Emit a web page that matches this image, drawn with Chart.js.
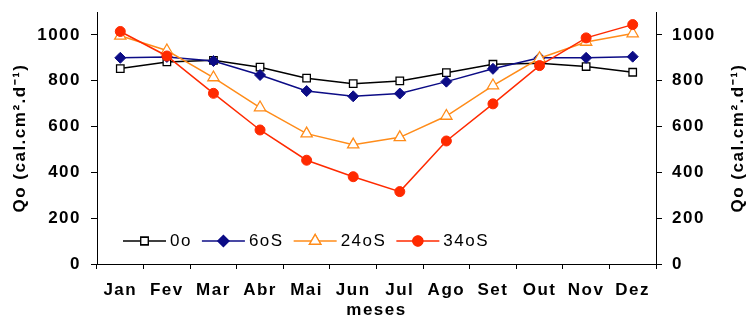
<!DOCTYPE html>
<html lang="pt">
<head>
  <meta charset="UTF-8">
  <title>Qo por mês</title>
  <script src="https://cdn.jsdelivr.net/npm/chart.js"></script>
  <style>
    html, body { margin: 0; padding: 0; background: #fff; }
    #chartBox { width: 748px; height: 320px; }
  </style>
</head>
<body>
  <div id="chartBox">
    <canvas id="qoChart" width="748" height="320"></canvas>
  </div>

  <script>
    // valores
    const months = ['Jan', 'Fev', 'Mar', 'Abr', 'Mai', 'Jun', 'Jul', 'Ago', 'Set', 'Out', 'Nov', 'Dez'];
    const lat0   = [853, 882, 889, 859, 811, 787, 799, 835, 872, 876, 862, 837];
    const lat6S  = [900, 904, 886, 825, 755, 732, 744, 796, 852, 900, 900, 905];
    const lat24S = [996, 932, 814, 683, 569, 521, 553, 646, 779, 898, 969, 1006];
    const lat34S = [1015, 908, 745, 585, 453, 381, 316, 537, 699, 866, 987, 1045];
    const seriesNames = ['0o', '6oS', '24oS', '34oS'];
    const yTickValues = [0, 200, 400, 600, 800, 1000];
    const yTitle = 'Qo (cal.cm\u00B2.d\u207B\u00B9)';
    const xTitle = 'meses';

    const SPACING = '1.5px';
    const boldFont = { family: '"Liberation Sans", Arial, sans-serif', size: 17, weight: 'bold', lineHeight: 1.2 };

    // texto um pouco mais largo, como no original
    const spacingPlugin = {
      id: 'spacing',
      beforeUpdate(chart) { chart.ctx.letterSpacing = SPACING; },
      beforeDraw(chart) { chart.ctx.letterSpacing = SPACING; }
    };

    // título do eixo direito, lido de baixo para cima
    const rightTitlePlugin = {
      id: 'rightTitle',
      afterDraw(chart) {
        const ctx = chart.ctx;
        const area = chart.chartArea;
        ctx.save();
        ctx.letterSpacing = SPACING;
        ctx.font = 'bold 17px "Liberation Sans", Arial, sans-serif';
        ctx.fillStyle = '#000';
        ctx.textAlign = 'center';
        ctx.textBaseline = 'middle';
        ctx.translate(chart.width - 10, (area.top + area.bottom) / 2);
        ctx.rotate(-Math.PI / 2);
        ctx.fillText(yTitle, 0, 0);
        ctx.restore();
      }
    };

    // legenda dentro da área do gráfico: linha + marcador + texto
    const insideLegend = {
      id: 'insideLegend',
      afterDraw(chart) {
        const ctx = chart.ctx;
        const area = chart.chartArea;
        const y = area.bottom - 23;
        let x = area.left + 26;
        ctx.save();
        ctx.letterSpacing = SPACING;
        ctx.font = '17px "Liberation Sans", Arial, sans-serif';
        chart.data.datasets.forEach(ds => {
          ctx.strokeStyle = ds.borderColor;
          ctx.lineWidth = ds.borderWidth;
          ctx.beginPath();
          ctx.moveTo(x, y);
          ctx.lineTo(x + 43, y);
          ctx.stroke();
          Chart.helpers.drawPoint(ctx, {
            pointStyle: ds.pointStyle,
            radius: ds.pointRadius,
            rotation: 0,
            borderWidth: ds.pointBorderWidth
          }, x + 21.5, y);
          ctx.fillStyle = ds.pointBackgroundColor;
          ctx.strokeStyle = ds.borderColor;
          ctx.lineWidth = ds.pointBorderWidth;
          ctx.fill();
          ctx.stroke();
          ctx.fillStyle = '#000';
          ctx.textAlign = 'left';
          ctx.textBaseline = 'middle';
          ctx.fillText(ds.label, x + 47, y);
          x += 47 + ctx.measureText(ds.label).width + 10;
        });
        ctx.restore();
      }
    };

    function keepTicks(scale) {
      scale.ticks = scale.ticks.filter(t => yTickValues.includes(t.value));
    }

    function noEdgePadding(scale) {
      scale.paddingTop = 0;
      scale.paddingBottom = 0;
      scale.paddingLeft = 0;
      scale.paddingRight = 0;
    }

    const axisGrid = { drawOnChartArea: false, drawTicks: true, tickLength: 6, color: '#000', lineWidth: 1 };
    const axisBorder = { display: true, color: '#000', width: 1 };

    new Chart(document.getElementById('qoChart').getContext('2d'), {
      type: 'line',
      data: {
        labels: months,
        datasets: [
          {
            label: seriesNames[0], data: lat0, order: 3,
            borderColor: '#000000', borderWidth: 1.5,
            pointStyle: 'rect', pointRadius: 5.3, pointBorderWidth: 1.3,
            pointBackgroundColor: '#ffffff', pointBorderColor: '#000000'
          },
          {
            label: seriesNames[1], data: lat6S, order: 2,
            borderColor: '#0c0c86', borderWidth: 1.5,
            pointStyle: 'rectRot', pointRadius: 5.5, pointBorderWidth: 1,
            pointBackgroundColor: '#0c0c86', pointBorderColor: '#0c0c86'
          },
          {
            label: seriesNames[2], data: lat24S, order: 1,
            borderColor: '#ff8c1a', borderWidth: 1.5,
            pointStyle: 'triangle', pointRadius: 6.5, pointBorderWidth: 1.3,
            pointBackgroundColor: '#ffffff', pointBorderColor: '#ff8c1a'
          },
          {
            label: seriesNames[3], data: lat34S, order: 0,
            borderColor: '#ff2a00', borderWidth: 1.5,
            pointStyle: 'circle', pointRadius: 5, pointBorderWidth: 1,
            pointBackgroundColor: '#ff2a00', pointBorderColor: '#ff2a00'
          }
        ]
      },
      options: {
        responsive: false,
        animation: false,
        layout: { padding: { top: 12, left: 0, right: 0, bottom: 0 } },
        plugins: {
          legend: { display: false },
          tooltip: { enabled: false }
        },
        elements: { line: { tension: 0 } },
        scales: {
          x: {
            type: 'category',
            offset: true,
            grid: Object.assign({}, axisGrid, { offset: true, tickLength: 5 }),
            border: axisBorder,
            ticks: { color: '#000', font: boldFont, padding: 11, maxRotation: 0, autoSkip: false },
            title: { display: true, text: xTitle, color: '#000', font: boldFont, padding: { top: 0, bottom: -1 } },
            afterFit(scale) { scale.height = 56; noEdgePadding(scale); }
          },
          y: {
            position: 'left',
            min: 0, max: 1100,
            ticks: { stepSize: 200, color: '#000', font: boldFont, padding: 10, callback: v => String(v) },
            afterBuildTicks: keepTicks,
            grid: axisGrid,
            border: axisBorder,
            title: { display: true, text: yTitle, color: '#000', font: boldFont, padding: { top: 10, bottom: 0 } },
            afterFit(scale) { scale.width = 97; noEdgePadding(scale); }
          },
          y2: {
            position: 'right',
            min: 0, max: 1100,
            ticks: { stepSize: 200, color: '#000', font: boldFont, padding: 10, callback: v => String(v) },
            afterBuildTicks: keepTicks,
            grid: axisGrid,
            border: axisBorder,
            afterFit(scale) { scale.width = 92; noEdgePadding(scale); }
          }
        }
      },
      plugins: [spacingPlugin, rightTitlePlugin, insideLegend]
    });
  </script>
</body>
</html>
